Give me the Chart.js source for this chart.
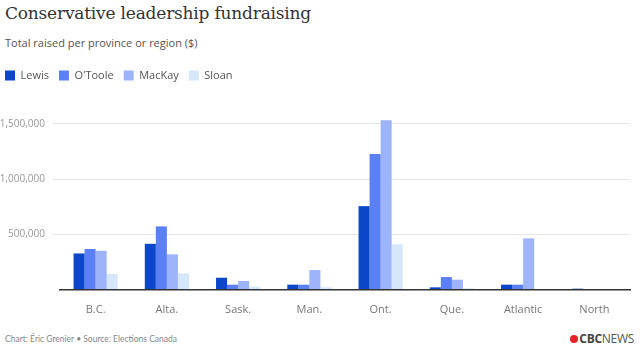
<!DOCTYPE html>
<html>
<head>
<meta charset="utf-8">
<script src="https://cdn.jsdelivr.net/npm/chart.js@4"></script>
<style>
  html, body { margin: 0; padding: 0; background: #fff; }
  body { width: 640px; height: 353px; position: relative; overflow: hidden; font-family: 'Open Sans', sans-serif; }
  #title { position: absolute; left: 5px; top: 3px; font-family: 'DejaVu Serif', serif; font-size: 17px; color: #333; letter-spacing: -0.2px; }
  #subtitle { position: absolute; left: 5px; top: 35px; font-size: 11px; color: #555; }
  #wrap { position: absolute; left: -5px; top: 60px; width: 645px; height: 260px; }
  #footer { position: absolute; left: 5px; top: 334px; font-family: Lato, sans-serif; font-size: 8.5px; color: #888; }
  #logo { position: absolute; right: 6px; top: 330px; font-size: 12px; color: #555; letter-spacing: -0.3px; }
  #logo b { color: #444; }
  #logo .gem { display: inline-block; width: 8px; height: 8px; background: #e8202a; border-radius: 50%; margin-right: 1px; }
</style>
</head>
<body>
<div id="title">Conservative leadership fundraising</div>
<div id="subtitle">Total raised per province or region ($)</div>
<div id="wrap"><canvas id="chart"></canvas></div>
<div id="footer">Chart: Éric Grenier • Source: Elections Canada</div>
<div id="logo"><span class="gem"></span><b>CBC</b>NEWS</div>
<script>
// Data
const regions = ['B.C.', 'Alta.', 'Sask.', 'Man.', 'Ont.', 'Que.', 'Atlantic', 'North'];
const lewis   = [330000, 417000, 111000, 48000, 757000, 24000, 48000, 12000];
const otoole  = [370000, 574000, 48000, 48000, 1228000, 117000, 48000, 2000];
const mackay  = [354000, 322000, 81000, 180000, 1532000, 93000, 466000, 7000];
const sloan   = [144000, 150000, 30000, 25000, 414000, 15000, 5000, 1000];
const yTicks  = [0, 500000, 1000000, 1500000];

// fixed legend block height so the plot area lines up
const legendHeight = {
    id: 'legendHeight',
    beforeLayout(chart) {
        const lg = chart.legend;
        if (lg && !lg._patched) {
            const fit = lg.fit.bind(lg);
            lg.fit = function () { fit(); this.height = 40; };
            lg._patched = true;
        }
    }
};

const ctx = document.getElementById('chart').getContext('2d');
const chart = new Chart(ctx, {
    type: 'bar',
    data: {
        labels: regions,
        datasets: [
            { label: 'Lewis',   data: lewis,  backgroundColor: '#0b47c8' },
            { label: "O'Toole", data: otoole, backgroundColor: '#5b80f6' },
            { label: 'MacKay',  data: mackay, backgroundColor: '#9db4fb' },
            { label: 'Sloan',   data: sloan,  backgroundColor: '#d6e6fb' }
        ]
    },
    options: {
        responsive: true,
        maintainAspectRatio: false,
        animation: false,
        layout: { padding: { left: 0, right: 10, top: 0, bottom: 0 } },
        datasets: { bar: { barPercentage: 1, categoryPercentage: 0.62 } },
        plugins: {
            legend: {
                position: 'top',
                align: 'start',
                labels: {
                    boxWidth: 10, boxHeight: 10, padding: 10,
                    color: '#555',
                    font: { family: 'Open Sans', size: 11 }
                }
            },
            tooltip: { enabled: false }
        },
        scales: {
            x: {
                afterFit: s => { s.height = 30; },
                grid: { display: false },
                border: { color: '#333', width: 1.5, z: 1 },
                ticks: { color: '#777', font: { family: 'Open Sans', size: 11 }, padding: 5 }
            },
            y: {
                min: 0,
                max: 1715000,
                afterBuildTicks: s => { s.ticks = yTicks.map(v => ({ value: v })); },
                afterFit: s => { s.width = 65; },
                grid: {
                    color: c => (c.tick && c.tick.value > 0) ? '#e6e6e6' : 'rgba(0,0,0,0)'
                },
                border: { display: false },
                ticks: {
                    color: '#999',
                    padding: 7,
                    font: { family: 'Open Sans', size: 10 },
                    callback: v => v > 0 ? v.toLocaleString('en-US') : ''
                }
            }
        }
    },
    plugins: [legendHeight]
});
</script>
</body>
</html>
